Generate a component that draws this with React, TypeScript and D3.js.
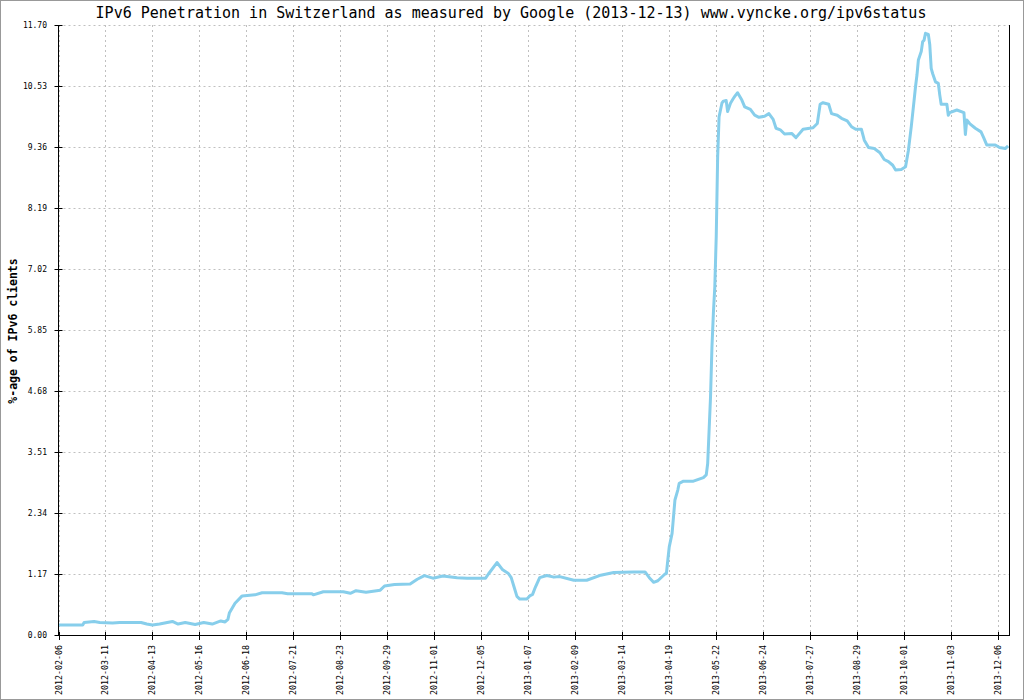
import React, { useEffect, useRef } from "react";
import * as d3 from "d3";

const titleText = "IPv6 Penetration in Switzerland as measured by Google (2013-12-13) www.vyncke.org/ipv6status";
const yAxisTitle = "%-age of IPv6 clients";

const yTicks = [0, 1.17, 2.34, 3.51, 4.68, 5.85, 7.02, 8.19, 9.36, 10.53, 11.7];

const xTickLabels = [
  "2012-02-06", "2012-03-11", "2012-04-13", "2012-05-16", "2012-06-18", "2012-07-21",
  "2012-08-23", "2012-09-29", "2012-11-01", "2012-12-05", "2013-01-07", "2013-02-09",
  "2013-03-14", "2013-04-19", "2013-05-22", "2013-06-24", "2013-07-27", "2013-08-29",
  "2013-10-01", "2013-11-03", "2013-12-06",
];
const samplesPerTick = 33;
const sampleCount = 668;

// sample index (days since 2012-02-06, excluding missing days) and penetration (%)
const sampleIndex = [
  0, 17, 18, 25, 29, 38, 43, 58, 62, 66, 71, 80, 84, 89, 96, 102, 108, 114, 117, 119,
  120, 124, 129, 138, 143, 157, 161, 178, 179, 186, 200, 205, 209, 216, 226, 229, 236, 247,
  252, 257, 263, 270, 280, 287, 300, 302, 308, 312, 316, 318, 320, 322, 324, 329, 331, 333,
  335, 338, 343, 348, 352, 362, 371, 380, 390, 404, 412, 415, 418, 421, 426, 427, 428, 429,
  431, 432, 433, 435, 436, 439, 446, 453, 455, 456, 457, 458, 459, 460, 461, 462, 463, 464,
  465, 466, 467, 469, 470, 472, 474, 475, 477, 480, 482, 486, 489, 492, 496, 499, 502, 504,
  507, 510, 515, 518, 523, 530, 533, 535, 537, 541, 543, 547, 550, 554, 557, 560, 564, 566,
  569, 573, 577, 580, 583, 586, 588, 592, 595, 597, 599, 601, 602, 603, 604, 606, 607, 608,
  609, 611, 612, 613, 614, 616, 618, 619, 620, 624, 625, 626, 631, 636, 637, 638, 640, 644,
  648, 650, 652, 658, 661, 665, 667,
];
const penetration = [
  0.19, 0.19, 0.24, 0.26, 0.24, 0.23, 0.24, 0.24, 0.21, 0.19, 0.21, 0.26, 0.21, 0.24, 0.2, 0.24, 0.21, 0.27, 0.25, 0.3,
  0.42, 0.61, 0.75, 0.77, 0.81, 0.81, 0.79, 0.79, 0.77, 0.83, 0.83, 0.8, 0.85, 0.82, 0.86, 0.94, 0.97, 0.98,
  1.07, 1.14, 1.09, 1.13, 1.1, 1.09, 1.09, 1.17, 1.39, 1.25, 1.18, 1.1, 0.92, 0.74, 0.69, 0.69, 0.75, 0.78,
  0.92, 1.1, 1.14, 1.11, 1.12, 1.05, 1.05, 1.14, 1.2, 1.21, 1.21, 1.1, 1.01, 1.04, 1.17, 1.18, 1.44, 1.69,
  1.95, 2.27, 2.59, 2.78, 2.91, 2.95, 2.95, 3.02, 3.07, 3.29, 3.93, 4.57, 5.53, 6.17, 6.68, 7.64, 9.17, 9.94,
  10.07, 10.2, 10.24, 10.25, 10.04, 10.2, 10.29, 10.33, 10.4, 10.26, 10.13, 10.08, 9.97, 9.93, 9.95, 10.0, 9.89, 9.72,
  9.69, 9.61, 9.62, 9.54, 9.7, 9.73, 9.81, 10.18, 10.21, 10.18, 10.0, 9.97, 9.91, 9.86, 9.75, 9.7, 9.7, 9.49,
  9.35, 9.33, 9.25, 9.12, 9.08, 9.01, 8.92, 8.93, 8.98, 9.3, 9.75, 10.26, 10.52, 10.74, 11.03, 11.19, 11.38, 11.41,
  11.54, 11.52, 11.32, 10.87, 10.77, 10.61, 10.58, 10.36, 10.18, 10.18, 9.97, 10.02, 10.07, 10.02, 9.6, 9.88, 9.81, 9.72,
  9.65, 9.53, 9.4, 9.4, 9.35, 9.33, 9.38,
];

const W = 1024;
const H = 700;
const left = 58.5;
const right = 1009.5;
const top = 25;
const bottom = 635;
const mono = "'DejaVu Sans Mono', 'Liberation Mono', monospace";

export default function App() {
  const ref = useRef<SVGSVGElement | null>(null);

  useEffect(() => {
    const svg = d3.select(ref.current);
    svg.selectAll("*").remove();

    const x = d3.scaleLinear().domain([0, sampleCount]).range([left, right]);
    const y = d3.scaleLinear().domain([0, 11.7]).range([bottom, top]);

    svg.append("rect").attr("x", 0).attr("y", 0).attr("width", W).attr("height", H).attr("fill", "#ffffff");
    svg.append("rect").attr("x", 0.5).attr("y", 0.5).attr("width", W - 1).attr("height", H - 1)
      .attr("fill", "none").attr("stroke", "#999999").attr("stroke-width", 1);

    const xTickVals = xTickLabels.map((_, i) => i * samplesPerTick);

    // grid
    const grid = svg.append("g").attr("stroke", "#c0c0c0").attr("stroke-width", 1).attr("stroke-dasharray", "2,3");
    yTicks.forEach((t) => {
      const yy = Math.round(y(t)) + 0.5;
      grid.append("line").attr("x1", left).attr("x2", right).attr("y1", yy).attr("y2", yy);
    });
    xTickVals.forEach((t) => {
      const xx = Math.round(x(t)) + 0.5;
      grid.append("line").attr("x1", xx).attr("x2", xx).attr("y1", top).attr("y2", bottom);
    });

    // line
    const pts: [number, number][] = sampleIndex.map((d, i) => [d, penetration[i]]);
    const line = d3.line<[number, number]>().x((d) => x(d[0])).y((d) => y(d[1]));
    svg.append("path").datum(pts).attr("d", line).attr("fill", "none")
      .attr("stroke", "#87ceeb").attr("stroke-width", 3).attr("stroke-linejoin", "round");

    // axes lines
    const ax = svg.append("g").attr("stroke", "#000").attr("stroke-width", 1);
    ax.append("line").attr("x1", left).attr("x2", left).attr("y1", top).attr("y2", bottom + 0.5);
    ax.append("line").attr("x1", right).attr("x2", right).attr("y1", top).attr("y2", bottom + 0.5);
    ax.append("line").attr("x1", left).attr("x2", right + 0.5).attr("y1", bottom + 0.5).attr("y2", bottom + 0.5);

    yTicks.forEach((t) => {
      const yy = Math.round(y(t)) + 0.5;
      ax.append("line").attr("x1", left - 4).attr("x2", left + 4).attr("y1", yy).attr("y2", yy);
      svg.append("text").attr("x", 47).attr("y", yy).attr("dy", "0.35em").attr("text-anchor", "end")
        .attr("font-family", mono).attr("font-size", 8).attr("fill", "#000").text(t.toFixed(2));
    });
    xTickVals.forEach((t, i) => {
      const xx = Math.round(x(t)) + 0.5;
      ax.append("line").attr("x1", xx).attr("x2", xx).attr("y1", bottom - 3).attr("y2", bottom + 5);
      svg.append("text").attr("transform", `translate(${xx},${645}) rotate(-90)`).attr("dy", "0.35em")
        .attr("text-anchor", "end").attr("font-family", mono).attr("font-size", 8.3).attr("fill", "#000")
        .text(xTickLabels[i]);
    });

    svg.append("text").attr("x", 511).attr("y", 18).attr("text-anchor", "middle")
      .attr("font-family", mono).attr("font-size", 15).attr("fill", "#000").text(titleText);

    svg.append("text").attr("transform", `translate(13,331) rotate(-90)`).attr("dy", "0.35em")
      .attr("text-anchor", "middle").attr("font-family", mono).attr("font-size", 11.5)
      .attr("font-weight", "bold").attr("fill", "#000").text(yAxisTitle);
  }, []);

  return (
    <svg ref={ref} width={W} height={H} style={{ position: "absolute", left: 0, top: 0, display: "block" }} />
  );
}
